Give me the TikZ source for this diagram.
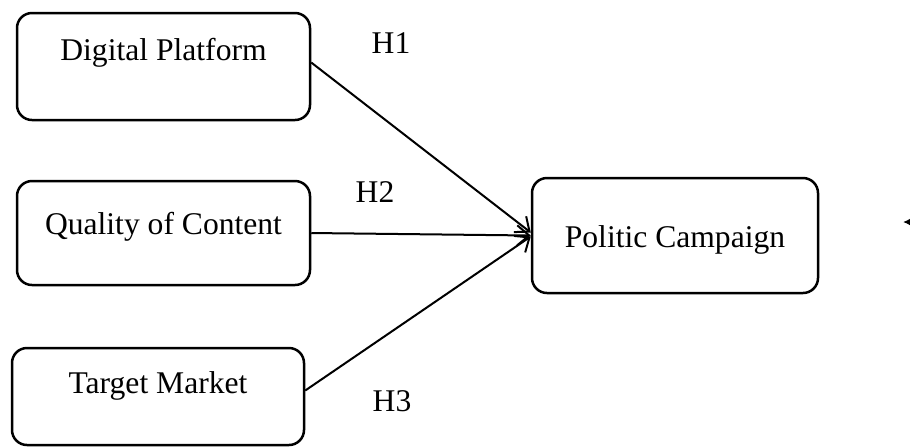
\documentclass[tikz,border=0pt]{standalone}
\usepackage{fontspec}
\setmainfont{Liberation Serif}
\usepackage{tikz}
\usetikzlibrary{arrows.meta}

\begin{document}
\begin{tikzpicture}[x=0.5pt,y=-0.5pt,->,>={Straight Barb[length=6pt,width=10pt]},
  line width=1pt,
  box/.style={draw,line width=1.25pt,rounded corners=7.5pt,inner sep=0pt,
    font=\fontsize{15.8pt}{19pt}\selectfont},
  hyp/.style={inner sep=0pt,font=\fontsize{15.8pt}{19pt}\selectfont}]
  \useasboundingbox (0,0) rectangle (910,447);

  \node[box,minimum width=146.5pt,text height=23.5pt,text depth=30pt] (dp) at (163.5,66.5) {Digital Platform};
  \node[box,minimum width=146.5pt,text height=26.5pt,text depth=25.5pt] (qoc) at (163.5,233) {Quality of Content};
  \node[box,minimum width=146pt,text height=22.5pt,text depth=26pt] (tm) at (158,396.5) {Target Market};
  \node[box,minimum width=143pt,text height=34.5pt,text depth=23pt] (pc) at (675,235.5) {Politic Campaign};

  \node[hyp] (h1) at (391,43) {H1};
  \node[hyp] (h2) at (375,192) {H2};
  \node[hyp] (h3) at (392,401) {H3};

  \coordinate (e1) at (915,222);
  \coordinate (e2) at (903,222);

  \path
    ([yshift=2pt]dp.east) edge ([yshift=1.5pt]pc.west)
    (qoc.east) edge (pc.west)
    ([yshift=3pt]tm.east) edge ([yshift=-0.5pt]pc.west);
  \draw[-{Latex[length=4pt,width=4pt]}] (e1) -- (e2);
\end{tikzpicture}
\end{document}
